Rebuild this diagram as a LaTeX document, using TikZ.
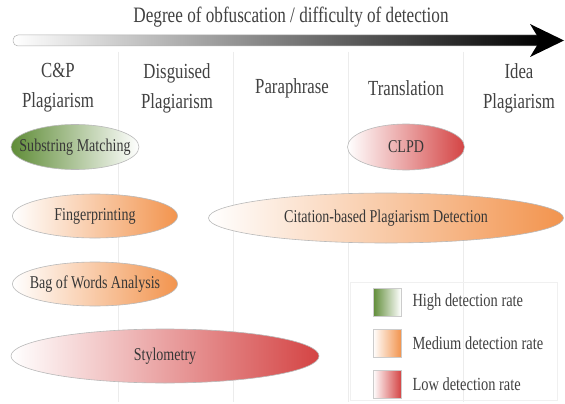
\documentclass[tikz,border=0pt]{standalone}
\usepackage{fontspec}
\setmainfont[FakeStretch=0.78]{Liberation Serif}
\usetikzlibrary{shapes.geometric}
\definecolor{hig}{RGB}{95,140,55}
\definecolor{med}{RGB}{242,148,78}
\definecolor{low}{RGB}{212,68,68}
\definecolor{txt}{RGB}{65,65,65}
\definecolor{etxt}{RGB}{55,55,55}
\tikzset{
  ell/.style={ellipse, draw=gray!55, line width=0.6pt, inner sep=0pt},
  highell/.style={ell, left color=hig, right color=white},
  medell/.style={ell, left color=white, right color=med},
  lowell/.style={ell, left color=white, right color=low},
  etext/.style={text=etxt, inner sep=0pt, font=\fontsize{18}{20}\selectfont},
  head/.style={text=txt, align=center, font=\fontsize{21.5}{30}\selectfont},
  divider/.style={draw=gray!15, line width=0.8pt},
  legsq/.style={draw=gray!40, line width=0.5pt, minimum width=28pt, minimum height=28pt, inner sep=0pt},
  legtxt/.style={anchor=west, text=txt, font=\fontsize{18.5}{20}\selectfont}
}
\begin{document}
\begin{tikzpicture}[x=1pt,y=-1pt]
\useasboundingbox (0,0) rectangle (565,404);
\fill[white] (0,0) rectangle (565,404);
% dividers
\foreach \xx in {118,233,348,463}{
  \draw[divider] (\xx,52) -- (\xx,402);
}
% title
\node[text=txt, font=\fontsize{22}{24}\selectfont] (title) at (291,17) {Degree of obfuscation / difficulty of detection};
% arrow
\shade[left color=white, right color=black, draw=gray!60, line width=0.5pt, rounded corners=5pt]
  (13,35) rectangle (542,46);
\fill[black] (530,24) -- (564,40.5) -- (530,57) -- (540,40.5) -- cycle;
% headers
\node[head] (cp) at (58,88) {C\&P\\Plagiarism};
\node[head] (dp) at (177,88) {Disguised\\Plagiarism};
\node[head] (pa) at (292,88) {Paraphrase};
\node[head] (tr) at (406,88) {Translation};
\node[head] (ip) at (519,88) {Idea\\Plagiarism};
% ellipses
\node[highell, minimum width=128pt, minimum height=45pt] (sm) at (75,147) {};
\node[etext] (smt) at (sm.center) {Substring Matching};
\node[lowell, minimum width=117pt, minimum height=46pt] (clpd) at (406,147) {};
\node[etext] (clpdt) at (clpd.center) {CLPD};
\node[medell, minimum width=165pt, minimum height=44pt] (fp) at (95,216) {};
\node[etext] (fpt) at (fp.center) {Fingerprinting};
\node[medell, minimum width=355pt, minimum height=50pt] (cb) at (386,218) {};
\node[etext] (cbt) at (cb.center) {Citation-based Plagiarism Detection};
\node[medell, minimum width=165pt, minimum height=44pt] (bow) at (95,284) {};
\node[etext] (bowt) at (bow.center) {Bag of Words Analysis};
\node[lowell, minimum width=308pt, minimum height=54pt] (sty) at (165,356) {};
\node[etext] (styt) at (sty.center) {Stylometry};
% legend
\node[draw=gray!12, line width=0.8pt, minimum width=207pt, minimum height=118pt, inner sep=0pt] (legbox) at (453.5,341) {};
\node[legsq, left color=hig, right color=white] (lh) at (387,302) {};
\node[legsq, left color=white, right color=med] (lm) at (387,343) {};
\node[legsq, left color=white, right color=low] (ll) at (387,384) {};
\node[legtxt] (th) at (409,302) {High detection rate};
\node[legtxt] (tm) at (409,343) {Medium detection rate};
\node[legtxt] (tl) at (409,384) {Low detection rate};
\end{tikzpicture}
\end{document}
